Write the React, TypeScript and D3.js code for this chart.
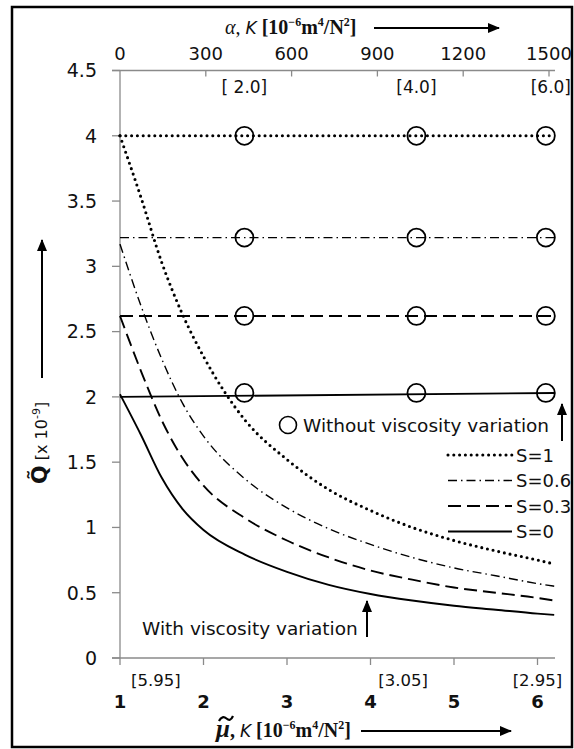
import React from "react";
import * as d3 from "d3";

// ---- data ----
const muValues = [1, 1.25, 1.5, 1.75, 2, 2.5, 3, 3.5, 4, 4.5, 5, 5.5, 6, 6.2];
const qS1 = [4.0, 3.53, 3.03, 2.63, 2.31, 1.82, 1.52, 1.29, 1.13, 1.0, 0.9, 0.82, 0.75, 0.72];
const qS06 = [3.17, 2.7, 2.29, 1.95, 1.7, 1.37, 1.15, 0.99, 0.87, 0.77, 0.69, 0.63, 0.57, 0.55];
const qS03 = [2.62, 2.2, 1.82, 1.53, 1.32, 1.07, 0.9, 0.77, 0.67, 0.6, 0.54, 0.5, 0.46, 0.44];
const qS0 = [2.02, 1.71, 1.38, 1.14, 0.98, 0.79, 0.66, 0.56, 0.49, 0.44, 0.4, 0.37, 0.34, 0.33];
const seriesLabels = ["S=1", "S=0.6", "S=0.3", "S=0"];
const constQ = [4.0, 3.22, 2.62, 2.03]; // without viscosity variation (value at right end)
const constStart = [4.0, 3.22, 2.62, 2.0]; // value at left end
const circleMu = [2.49, 4.55, 6.1];
const xTicks = [1, 2, 3, 4, 5, 6];
const yTicks = [0, 0.5, 1, 1.5, 2, 2.5, 3, 3.5, 4, 4.5];
const topTicks = [0, 300, 600, 900, 1200, 1500];
const topBrackets = [
  { v: 2.49, t: "[ 2.0]" },
  { v: 4.55, t: "[4.0]" },
  { v: 6.16, t: "[6.0]" },
];
const bottomBrackets = [
  { v: 1.43, t: "[5.95]" },
  { v: 4.39, t: "[3.05]" },
  { v: 6.0, t: "[2.95]" },
];

const styles = [
  { dash: "0 5.8", width: 3.1, cap: "round" as const },
  { dash: "9 4 1.5 4", width: 1.4, cap: "butt" as const },
  { dash: "13 6", width: 1.9, cap: "butt" as const },
  { dash: "", width: 1.9, cap: "butt" as const },
];

const SANS = "'DejaVu Sans', sans-serif";
const SERIF = "'Liberation Serif', 'DejaVu Serif', serif";

export default function App() {
  const W = 574;
  const H = 749;
  const x = d3.scaleLinear().domain([1, 6.2]).range([120, 554.2]);
  const y = d3.scaleLinear().domain([0, 4.5]).range([658, 70.5]);
  const top = d3.scaleLinear().domain([0, 1500]).range([120, 549]);

  const line = d3
    .line<[number, number]>()
    .x((d) => x(d[0]))
    .y((d) => y(d[1]))
    .curve(d3.curveMonotoneX);

  const curves = [qS1, qS06, qS03, qS0];
  const axisColor = "#8a8a8a";

  const supProps = { fontWeight: "bold" as const, fontSize: 12 };

  return (
    <svg
      width={W}
      height={H}
      viewBox={`0 0 ${W} ${H}`}
      style={{ position: "absolute", left: 0, top: 0, background: "#fff" }}
    >
      <defs>
        <marker
          id="ah"
          viewBox="0 0 12 10"
          refX="11"
          refY="5"
          markerWidth="12"
          markerHeight="10"
          markerUnits="userSpaceOnUse"
          orient="auto"
        >
          <path d="M0,0 L12,5 L0,10 z" fill="#000" />
        </marker>
      </defs>
      <rect x={0} y={0} width={W} height={H} fill="#fff" />
      {/* frame */}
      <rect x={12} y={7} width={560} height={740} fill="none" stroke="#000" strokeWidth={2.5} />

      {/* axes */}
      <line x1={112} x2={555} y1={y(4.5)} y2={y(4.5)} stroke={axisColor} strokeWidth={1.3} />
      <line x1={112} x2={555} y1={y(0)} y2={y(0)} stroke={axisColor} strokeWidth={1.3} />
      <line x1={x(1)} x2={x(1)} y1={y(4.5)} y2={y(0)} stroke={axisColor} strokeWidth={1.3} />
      {yTicks.map((t) => (
        <g key={"yt" + t}>
          <line x1={112} x2={x(1)} y1={y(t)} y2={y(t)} stroke={axisColor} strokeWidth={1.3} />
          <text x={97} y={y(t)} dy="0.36em" textAnchor="end" fontFamily={SANS} fontSize={19} fill="#111">
            {t}
          </text>
        </g>
      ))}
      {xTicks.map((t) => (
        <g key={"xt" + t}>
          <line x1={x(t)} x2={x(t)} y1={y(0)} y2={y(0) + 7} stroke={axisColor} strokeWidth={1.3} />
          <text x={x(t)} y={708} textAnchor="middle" fontFamily={SANS} fontWeight="bold" fontSize={18} fill="#111">
            {t}
          </text>
        </g>
      ))}
      {topTicks.map((t) => (
        <g key={"tt" + t}>
          {t > 0 && (
            <line x1={top(t)} x2={top(t)} y1={y(4.5)} y2={y(4.5) + 6} stroke={axisColor} strokeWidth={1.3} />
          )}
          <text x={top(t)} y={60} textAnchor="middle" fontFamily={SANS} fontSize={18} fill="#111">
            {t}
          </text>
        </g>
      ))}
      {topBrackets.map((b) => (
        <text key={b.t} x={x(b.v)} y={93} textAnchor="middle" fontFamily={SANS} fontSize={17} fill="#111">
          {b.t}
        </text>
      ))}
      {bottomBrackets.map((b) => (
        <text key={b.t} x={x(b.v)} y={686} textAnchor="middle" fontFamily={SANS} fontSize={16.5} fill="#111">
          {b.t}
        </text>
      ))}

      {/* constant lines (without viscosity variation) */}
      {constQ.map((q, i) => (
        <path
          key={"c" + i}
          d={line([
            [1, constStart[i]],
            [6.2, q],
          ]) as string}
          fill="none"
          stroke="#000"
          strokeWidth={styles[i].width}
          strokeDasharray={styles[i].dash}
          strokeLinecap={styles[i].cap}
        />
      ))}
      {constQ.map((q, i) =>
        circleMu.map((m, j) => (
          <circle key={"o" + i + "-" + j} cx={x(m)} cy={y(q)} r={9} fill="none" stroke="#000" strokeWidth={1.8} />
        ))
      )}

      {/* decaying curves (with viscosity variation) */}
      {curves.map((c, i) => (
        <path
          key={"v" + i}
          d={line(muValues.map((m, k) => [m, c[k]] as [number, number])) as string}
          fill="none"
          stroke="#000"
          strokeWidth={styles[i].width}
          strokeDasharray={styles[i].dash}
          strokeLinecap={styles[i].cap}
        />
      ))}

      {/* legend */}
      <circle cx={288} cy={425} r={8.5} fill="#fff" stroke="#000" strokeWidth={1.6} />
      <text x={303} y={432} fontFamily={SANS} fontSize={18.5} fill="#111">
        Without viscosity variation
      </text>
      <line x1={562} x2={562} y1={441} y2={404} stroke="#000" strokeWidth={2} markerEnd="url(#ah)" />
      {seriesLabels.map((s, i) => {
        const ly = 455 + i * 25.5;
        return (
          <g key={s}>
            <line
              x1={448}
              x2={512}
              y1={ly}
              y2={ly}
              stroke="#000"
              strokeWidth={styles[i].width}
              strokeDasharray={styles[i].dash}
              strokeLinecap={styles[i].cap}
            />
            <text x={516} y={ly + 6.5} fontFamily={SANS} fontSize={18} fill="#111">
              {s}
            </text>
          </g>
        );
      })}

      <text x={142} y={635} fontFamily={SANS} fontSize={18.5} fill="#111">
        With viscosity variation
      </text>
      <line x1={367} x2={367} y1={637} y2={601} stroke="#000" strokeWidth={2} markerEnd="url(#ah)" />

      {/* top axis title */}
      <text x={225} y={34} fontFamily={SERIF} fontSize={20} fill="#111">
        <tspan fontStyle="italic">α</tspan>
        <tspan>, </tspan>
        <tspan fontStyle="italic" fontFamily={SANS} fontSize={17}>K</tspan>
        <tspan fontWeight="bold"> [10</tspan>
        <tspan {...supProps} dy={-8}>−6</tspan>
        <tspan fontWeight="bold" dy={8}>m</tspan>
        <tspan {...supProps} dy={-8}>4</tspan>
        <tspan fontWeight="bold" dy={8}>/N</tspan>
        <tspan {...supProps} dy={-8}>2</tspan>
        <tspan fontWeight="bold" dy={8}>]</tspan>
      </text>
      <line x1={374} x2={499} y1={28} y2={28} stroke="#000" strokeWidth={2} markerEnd="url(#ah)" />

      {/* bottom axis title */}
      <text x={216} y={737} fontFamily={SERIF} fontSize={20} fill="#111">
        <tspan fontWeight="bold" fontStyle="italic" fontSize={25}>μ</tspan>
        <tspan fontWeight="bold">, </tspan>
        <tspan fontStyle="italic" fontFamily={SANS} fontSize={17}>K</tspan>
        <tspan fontWeight="bold"> [10</tspan>
        <tspan {...supProps} dy={-8}>−6</tspan>
        <tspan fontWeight="bold" dy={8}>m</tspan>
        <tspan {...supProps} dy={-8}>4</tspan>
        <tspan fontWeight="bold" dy={8}>/N</tspan>
        <tspan {...supProps} dy={-8}>2</tspan>
        <tspan fontWeight="bold" dy={8}>]</tspan>
      </text>
      {/* tilde over mu */}
      <path d="M219,721 C221,716.5 224,716.5 226.5,718.5 S231,720.5 233,716" fill="none" stroke="#000" strokeWidth={2.2} />
      <line x1={361} x2={511} y1={731} y2={731} stroke="#000" strokeWidth={2} markerEnd="url(#ah)" />

      {/* y axis title */}
      <text transform="translate(47,484) rotate(-90)" fontFamily={SANS} fontSize={16} fill="#111">
        <tspan fontWeight="bold" fontSize={22}>Q̃</tspan>
        <tspan> [x 10</tspan>
        <tspan fontSize={11} dy={-7}>-9</tspan>
        <tspan dy={7}>]</tspan>
      </text>
      <line x1={42} x2={42} y1={378} y2={240} stroke="#000" strokeWidth={2} markerEnd="url(#ah)" />
    </svg>
  );
}
